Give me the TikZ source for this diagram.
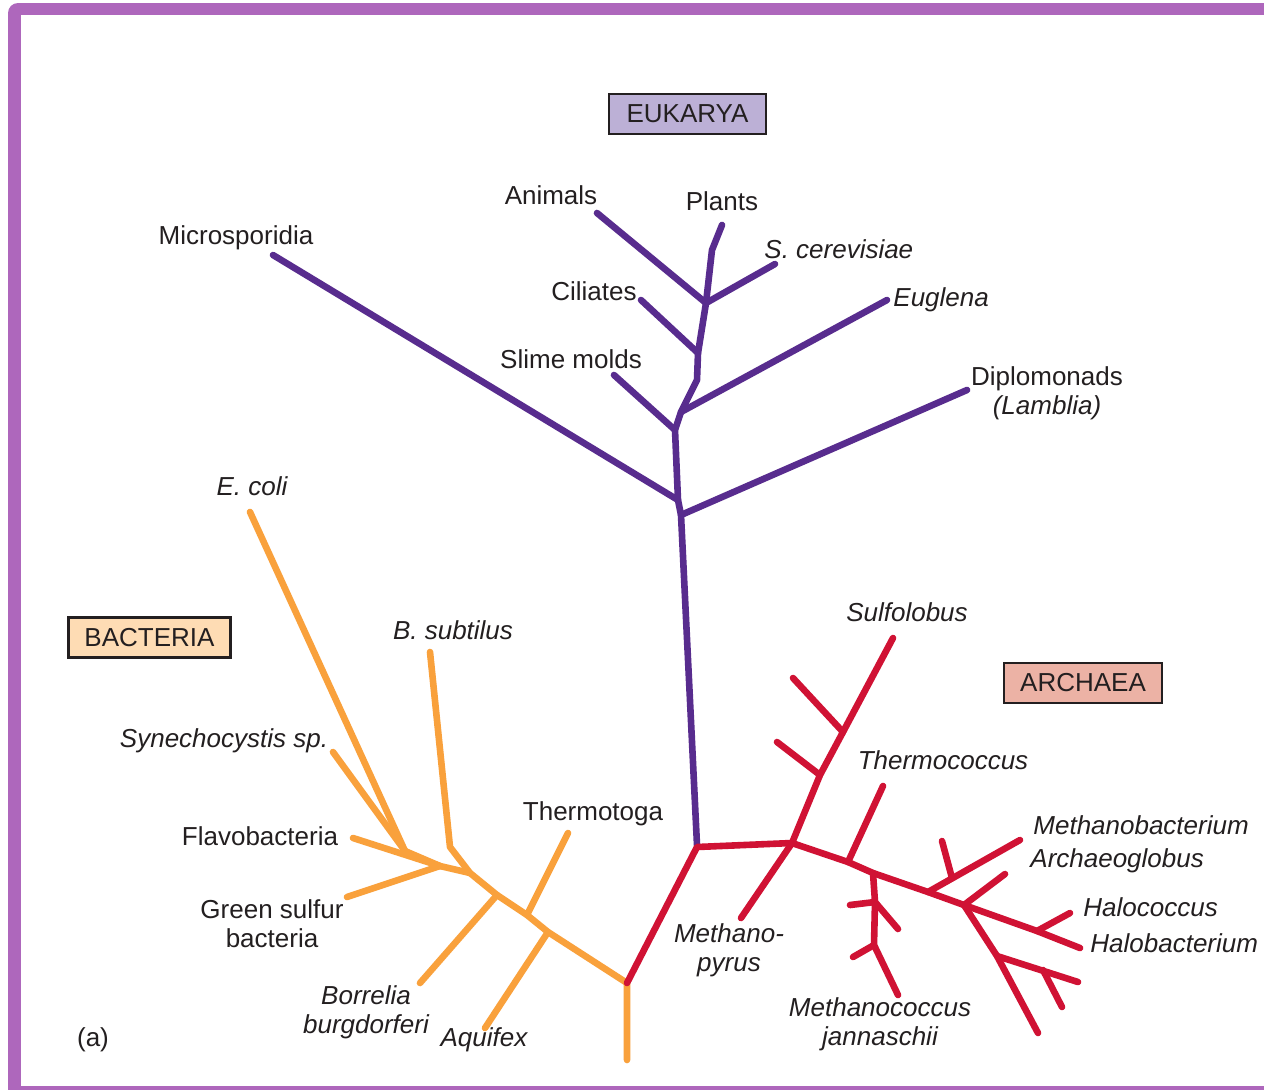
\documentclass[tikz,border=0pt]{standalone}
\usepackage{fontspec}
\setmainfont{Liberation Sans}
\definecolor{framecol}{RGB}{174,103,188}
\definecolor{eukcol}{RGB}{88,44,142}
\definecolor{baccol}{RGB}{249,161,60}
\definecolor{arccol}{RGB}{208,18,52}
\definecolor{eukfill}{RGB}{188,176,214}
\definecolor{bacfill}{RGB}{254,220,180}
\definecolor{arcfill}{RGB}{236,178,165}
\definecolor{txt}{RGB}{35,31,32}
\begin{document}
\begin{tikzpicture}[x=0.5pt,y=-0.5pt,
  lab/.style={font=\fontsize{13}{14.5}\selectfont, inner sep=0pt, text=txt, align=center},
  ital/.style={lab, font=\fontsize{13}{14.5}\selectfont\itshape},
  domainbox/.style={lab, draw=txt, line width=1.2pt, minimum height=20pt, inner xsep=8pt},
  euk/.style={draw=eukcol, line width=3.3pt, line cap=round, line join=round},
  bac/.style={draw=baccol, line width=3.3pt, line cap=round, line join=round},
  arc/.style={draw=arccol, line width=3.3pt, line cap=round, line join=round}]
\useasboundingbox (0,0) rectangle (1264,1089);
% frame
\fill[framecol, rounded corners=5pt] (8,3) rectangle (1290,1110);
\fill[white] (21,15) rectangle (1290,1086);

% domain boxes
\node[domainbox, fill=eukfill, minimum width=78.5pt] (eukarya) at (687.5,114) {EUKARYA};
\node[domainbox, fill=bacfill, minimum width=79.5pt] (bacteria) at (149.5,637.5) {BACTERIA};
\node[domainbox, fill=arcfill, minimum width=79pt] (archaea) at (1083,683) {ARCHAEA};

% ---------- Eukarya ----------
\coordinate (e0) at (697,845);
\coordinate (e1) at (681,515);
\coordinate (e2) at (678,500);
\coordinate (e3) at (675,430);
\coordinate (e4) at (681,412);
\coordinate (e5) at (697,380);
\coordinate (e6) at (698,353);
\coordinate (e7) at (706,303);
\coordinate (e8) at (712,250);
\coordinate (tPlants) at (722,225);
\coordinate (tDiplo) at (967,390);
\coordinate (tMicro) at (273,255);
\coordinate (tSlime) at (614,375);
\coordinate (tEuglena) at (887,300);
\coordinate (tCiliates) at (641,300);
\coordinate (tAnimals) at (597,213);
\coordinate (tScer) at (775,264);
\draw[euk] (e0) -- (e1) -- (e2) -- (e3) -- (e4) -- (e5) -- (e6) -- (e7) -- (e8) -- (tPlants);
\draw[euk] (e1) -- (tDiplo);
\draw[euk] (e2) -- (tMicro);
\draw[euk] (e3) -- (tSlime);
\draw[euk] (e4) -- (tEuglena);
\draw[euk] (e6) -- (tCiliates);
\draw[euk] (e7) -- (tAnimals);
\draw[euk] (e7) -- (tScer);

\node[lab] (lMicro) at (236,238) {Microsporidia};
\node[lab] (lAnimals) at (551,195) {Animals};
\node[lab] (lPlants) at (722,201) {Plants};
\node[ital, anchor=west] (lScer) at (764,249) {S. cerevisiae};
\node[lab] (lCiliates) at (594,291) {Ciliates};
\node[ital, anchor=west] (lEuglena) at (893,300) {Euglena};
\node[lab] (lSlime) at (571,359) {Slime molds};
\node[lab] (lDiplo) at (1047,393) {Diplomonads\\\itshape(Lamblia)};

% ---------- Bacteria ----------
\coordinate (b0) at (627,983);
\coordinate (broot) at (627,1060);
\coordinate (b1) at (548,932);
\coordinate (b2) at (527,915);
\coordinate (b3) at (497,895);
\coordinate (b4) at (470,873);
\coordinate (bs) at (450,847);
\coordinate (b5) at (440,866);
\coordinate (b6) at (405,851);
\coordinate (tAquifex) at (485,1028);
\coordinate (tThermo) at (568,833);
\coordinate (tBorrelia) at (420,983);
\coordinate (tBsub) at (430,652);
\coordinate (tGreen) at (347,897);
\coordinate (tEcoli) at (250,512);
\coordinate (tSyn) at (333,752);
\coordinate (tFlavo) at (353,838);
\draw[bac] (broot) -- (b0) -- (b1) -- (b2) -- (b3) -- (b4) -- (bs) -- (tBsub);
\draw[bac] (b1) -- (tAquifex);
\draw[bac] (b2) -- (tThermo);
\draw[bac] (b3) -- (tBorrelia);
\draw[bac] (b4) -- (b5) -- (b6);
\draw[bac] (b5) -- (tGreen);
\draw[bac] (b5) -- (tFlavo);
\draw[bac] (b6) -- (tEcoli);
\draw[bac] (b6) -- (tSyn);

\node[ital] (lEcoli) at (252,486) {E. coli};
\node[ital] (lBsub) at (453,630) {B. subtilus};
\node[ital] (lSyn) at (224,741) {Synechocystis sp.};
\node[lab] (lFlavo) at (260,836) {Flavobacteria};
\node[lab] (lThermo) at (593,814) {Thermotoga};
\node[lab] (lGreen) at (272,924) {Green sulfur\\bacteria};
\node[ital] (lBorrelia) at (366,1012) {Borrelia\\burgdorferi};
\node[ital] (lAquifex) at (484,1040) {Aquifex};
\node[lab] (la) at (93,1040) {(a)};

% ---------- Archaea ----------
\coordinate (a1) at (697,847);
\coordinate (a2) at (792,843);
\coordinate (a3) at (820,775);
\coordinate (a4) at (843,732);
\coordinate (tSulfo) at (893,638);
\coordinate (tw1) at (793,678);
\coordinate (tw2) at (777,742);
\coordinate (tPyrus) at (741,918);
\coordinate (a5) at (848,862);
\coordinate (tThermoc) at (883,786);
\coordinate (a6) at (873,873);
\coordinate (m1) at (875,902);
\coordinate (m2) at (874,945);
\coordinate (tMcocc) at (898,995);
\coordinate (mt1) at (850,905);
\coordinate (mt2) at (898,929);
\coordinate (mt3) at (853,957);
\coordinate (a7) at (928,892);
\coordinate (c1) at (952,878);
\coordinate (tMbact) at (1020,840);
\coordinate (tw3) at (942,841);
\coordinate (a8) at (964,905);
\coordinate (tArch) at (1005,874);
\coordinate (a9) at (1037,931);
\coordinate (tHalob) at (1080,948);
\coordinate (tHaloc) at (1070,913);
\coordinate (l1) at (997,956);
\coordinate (tLow) at (1038,1033);
\coordinate (l2) at (1043,970);
\coordinate (tLow2) at (1078,982);
\coordinate (tLow3) at (1062,1007);
\draw[arc] (b0) -- (a1) -- (a2) -- (a5) -- (a6) -- (a7) -- (a8) -- (a9) -- (tHalob);
\draw[arc] (a2) -- (a3) -- (a4) -- (tSulfo);
\draw[arc] (a4) -- (tw1);
\draw[arc] (a3) -- (tw2);
\draw[arc] (a2) -- (tPyrus);
\draw[arc] (a5) -- (tThermoc);
\draw[arc] (a6) -- (m1) -- (m2) -- (tMcocc);
\draw[arc] (m1) -- (mt1);
\draw[arc] (m1) -- (mt2);
\draw[arc] (m2) -- (mt3);
\draw[arc] (a7) -- (tMbact);
\draw[arc] (c1) -- (tw3);
\draw[arc] (a8) -- (tArch);
\draw[arc] (a9) -- (tHaloc);
\draw[arc] (a8) -- (l1) -- (tLow);
\draw[arc] (l1) -- (tLow2);
\draw[arc] (l2) -- (tLow3);

\node[ital] (lSulfo) at (907,612) {Sulfolobus};
\node[ital] (lThermoc) at (943,760) {Thermococcus};
\node[ital, anchor=west] (lMbact) at (1033,825) {Methanobacterium};
\node[ital, anchor=west] (lArch) at (1030,861) {Archaeoglobus};
\node[ital, anchor=west] (lHaloc) at (1083,907) {Halococcus};
\node[ital, anchor=west] (lHalob) at (1090,943) {Halobacterium};
\node[ital] (lPyrus) at (729,950) {Methano-\\pyrus};
\node[ital] (lMcocc) at (880,1024) {Methanococcus\\jannaschii};
\end{tikzpicture}
\end{document}
